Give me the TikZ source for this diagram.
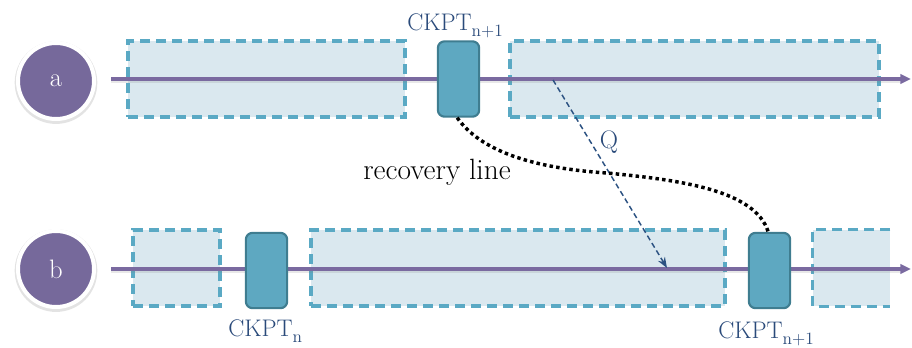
\documentclass[tikz,border=0pt]{standalone}
\usetikzlibrary{arrows.meta,backgrounds}
\definecolor{procfill}{HTML}{76699B}
\definecolor{procline}{HTML}{7A6AA0}
\definecolor{dashfill}{HTML}{DAE8EF}
\definecolor{dashdraw}{HTML}{5AA9C4}
\definecolor{ckfill}{HTML}{5EA8C1}
\definecolor{ckdraw}{HTML}{3F7D90}
\definecolor{lbl}{HTML}{2A4A7A}
\definecolor{msg}{HTML}{2C5282}
\newcommand{\ckptsub}[1]{CKPT\raisebox{-4.5pt}{\fontsize{13}{14}\selectfont #1}}
\tikzset{
  proc/.style={circle, fill=procfill, draw=white, line width=3pt, minimum size=57pt,
    text=white, font=\fontsize{20}{22}\selectfont},
  procshadow/.style={fill=gray, opacity=0.22},
  work/.style={fill=dashfill, draw=dashdraw, line width=2.5pt, dash pattern=on 7.5pt off 4.5pt,
    minimum height=57pt, inner sep=0pt},
  workfill/.style={fill=dashfill, minimum height=57pt, inner sep=0pt},
  workedge/.style={draw=dashdraw, line width=2.5pt, dash pattern=on 7.5pt off 4.5pt},
  ckpt/.style={fill=ckfill, draw=ckdraw, line width=1.6pt, rounded corners=5pt,
    minimum width=31pt, minimum height=56.5pt, inner sep=0pt},
  timeline/.style={draw=procline, line width=2.6pt, -{Triangle[length=8pt,width=7pt]}},
  lineshadow/.style={draw=gray, opacity=0.18, line width=3.5pt},
  ckptlabel/.style={text=lbl, font=\fontsize{18}{20}\selectfont, inner sep=0pt},
  recline/.style={draw=black, line width=2.6pt, dash pattern=on 2.6pt off 2.4pt},
  msgline/.style={draw=msg, line width=1.1pt, dash pattern=on 4pt off 2.5pt, -{Stealth[length=8pt,width=6pt]}},
}
\begin{document}
\begin{tikzpicture}[x=0.75pt,y=-0.75pt]
\useasboundingbox (0,0) rectangle (912,347);
% processes
\node[proc] (a) at (56,81) {a};
\node[proc] (b) at (56,269) {b};
\begin{scope}[on background layer]
  \fill[procshadow] ([yshift=-1.2pt]a.center) circle[radius=31pt];
  \fill[procshadow] ([yshift=-1.2pt]b.center) circle[radius=31pt];
\end{scope}
% dashed work intervals
\node[work, minimum width=207.75pt] (wa1) at (266.5,79) {};
\node[work, minimum width=276.75pt] (wa2) at (694.5,79) {};
\node[work, minimum width=65.25pt] (wb1) at (176.5,268) {};
\node[work, minimum width=310.5pt] (wb2) at (518,268) {};
\node[workfill, minimum width=57.75pt] (wb3) at (851.5,268) {};
\draw[workedge] (wb3.north east) -- (wb3.north west) -- (wb3.south west) -- (wb3.south east);
% timelines
\coordinate (as) at (111,79);
\coordinate (ae) at (911,79);
\coordinate (bs) at (111,269);
\coordinate (be) at (911,269);
\draw[lineshadow] ([yshift=-1.6pt]as) -- ([yshift=-1.6pt,xshift=-6pt]ae);
\draw[lineshadow] ([yshift=-1.6pt]bs) -- ([yshift=-1.6pt,xshift=-6pt]be);
\draw[timeline] (as) -- (ae);
\draw[timeline] (bs) -- (be);
% checkpoints
\node[ckpt] (ca) at (458.5,79) {};
\node[ckpt] (cb1) at (266.5,270.5) {};
\node[ckpt] (cb2) at (769.5,270.5) {};
\node[ckptlabel, anchor=base west] (la) at (407,30) {\ckptsub{n+1}};
\node[ckptlabel, anchor=base west] (lb1) at (228,336) {\ckptsub{n}};
\node[ckptlabel, anchor=base west] (lb2) at (718,338) {\ckptsub{n+1}};
% message Q
\coordinate (qs) at (553,80);
\coordinate (qe) at (667,268);
\draw[msgline] (qs) -- (qe);
\node[text=lbl, font=\fontsize{19}{20}\selectfont] (q) at (609,142) {Q};
% recovery line
\draw[recline] ([xshift=-1pt]ca.south) .. controls (480,150) and (530,168) .. (607,173)
  .. controls (680,180) and (755,190) .. ([xshift=-1pt]cb2.north);
\node[font=\fontsize{22}{24}\selectfont] (rl) at (437,172) {recovery line};
\end{tikzpicture}
\end{document}
